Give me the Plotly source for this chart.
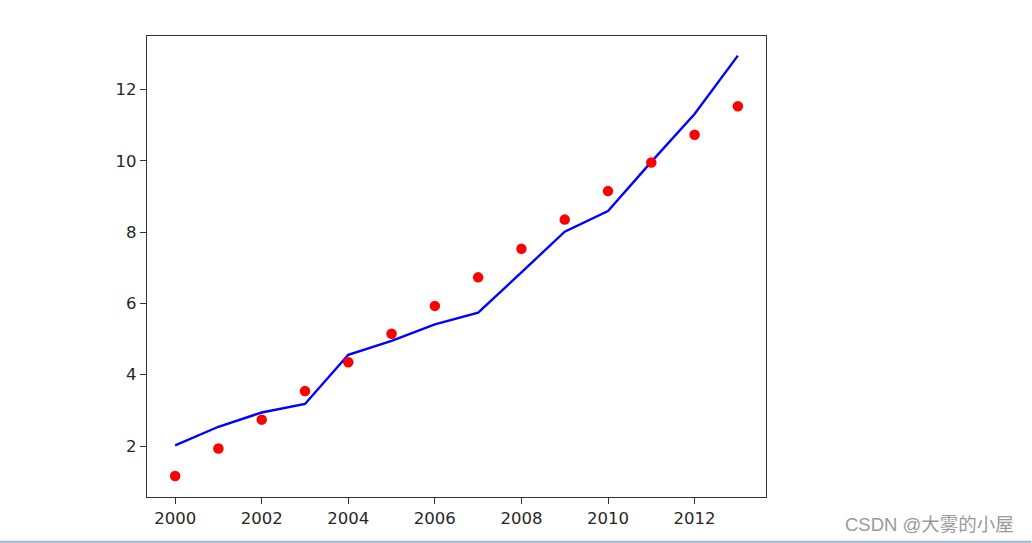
import plotly.graph_objects as go

years = list(range(2000, 2014))
actual = [1.16, 1.93, 2.74, 3.54, 4.35, 5.15, 5.93, 6.73, 7.53, 8.35, 9.15, 9.95, 10.73, 11.53]
fitted = [2.02, 2.54, 2.94, 3.18, 4.56, 4.95, 5.41, 5.74, 6.87, 8.01, 8.59, 9.97, 11.31, 12.95]
xticks = [2000, 2002, 2004, 2006, 2008, 2010, 2012]
yticks = [2, 4, 6, 8, 10, 12]
watermark = "CSDN @大雾的小屋"

W, H = 1032, 543
L, R, T, B = 147.3, 766.5, 35.7, 496.7
pw, ph = R - L, B - T

fig = go.Figure()
fig.add_trace(go.Scatter(x=years, y=fitted, mode="lines",
                         line=dict(color="#0000ff", width=2.4), hoverinfo="skip"))
fig.add_trace(go.Scatter(x=years, y=actual, mode="markers",
                         marker=dict(color="#ff0000", size=10.5, line=dict(width=0)),
                         hoverinfo="skip"))

axis_common = dict(showgrid=False, zeroline=False, showline=True, linecolor="#333333",
                   linewidth=1.3, mirror=True, ticks="outside", ticklen=6, tickwidth=1.3,
                   tickcolor="#333333",
                   tickfont=dict(family="DejaVu Sans", size=16.5, color="#262626"))

fig.update_layout(
    width=W, height=H,
    margin=dict(l=L, r=W - R, t=T, b=H - B, pad=0),
    paper_bgcolor="white", plot_bgcolor="white",
    showlegend=False,
    xaxis=dict(range=[1999.35, 2013.65], tickvals=xticks,
               ticktext=[str(v) for v in xticks], **axis_common),
    yaxis=dict(range=[0.57, 13.5], tickvals=yticks,
               ticktext=[str(v) for v in yticks], **axis_common),
)

fig.add_annotation(text=watermark, xref="paper", yref="paper",
                   x=(1017 - L) / pw, y=(B - 524) / ph, xanchor="right", yanchor="middle",
                   showarrow=False,
                   font=dict(family="Liberation Sans, Noto Sans CJK SC", size=18.5, color="#9a9a9a"))

fig.add_shape(type="line", xref="paper", yref="paper",
              x0=(0 - L) / pw, x1=(W - L) / pw,
              y0=(B - 541.5) / ph, y1=(B - 541.5) / ph,
              line=dict(color="#9db6cf", width=2))

fig.write_html("out.html", config={"displayModeBar": False},
               post_script="document.body.style.margin='0';document.body.style.padding='0';"
                           "document.body.style.overflow='hidden';")
